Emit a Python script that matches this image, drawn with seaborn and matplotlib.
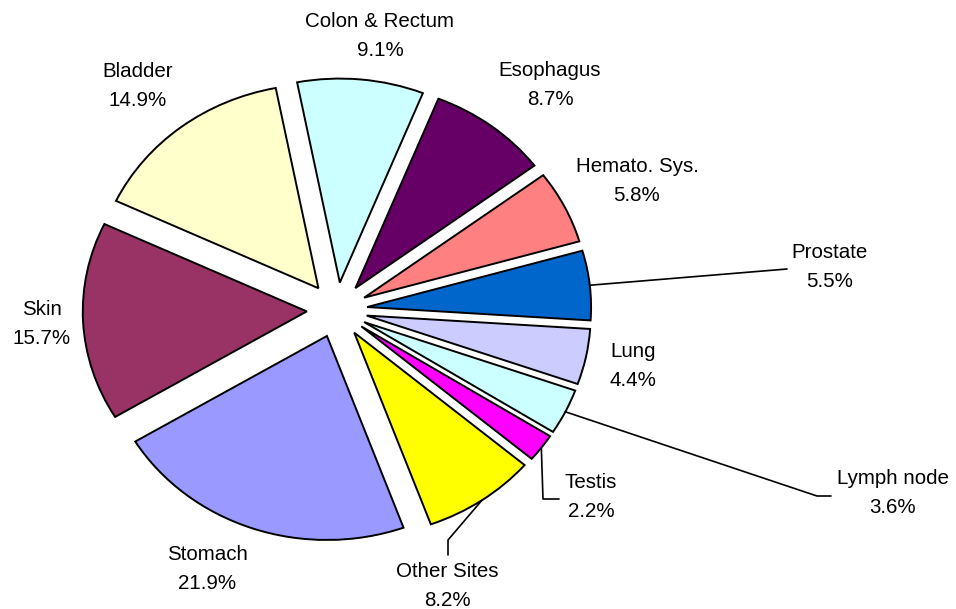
import numpy as np
import matplotlib
matplotlib.use("Agg")
import matplotlib.pyplot as plt
import seaborn as sns

sns.set_style("white")
plt.rcParams["font.family"] = ["Liberation Sans", "DejaVu Sans"]

# DATA (clockwise from the top)
sites = ["Colon & Rectum", "Esophagus", "Hemato. Sys.", "Prostate", "Lung",
         "Lymph node", "Testis", "Other Sites", "Stomach", "Skin", "Bladder"]
shares = [9.1, 8.7, 5.8, 5.5, 4.4, 3.6, 2.2, 8.2, 21.9, 15.7, 14.9]
colors = ["#CCFFFF", "#660066", "#FF8080", "#0066CC", "#CCCCFF", "#CCFFFF",
          "#FF00FF", "#FFFF00", "#9999FF", "#993366", "#FFFFCC"]

# LAYOUT (pixels of the 956x609 picture)
W, H = 956, 609
CX, CY, RX, RY = 337, 310, 224, 204   # pie centre and radii (pie is a bit stretched)

def to_data(x, y):
    return (x - CX) / RX, (CY - y) / RY

label_px = {"Colon & Rectum": (380, 36), "Esophagus": (550, 85), "Hemato. Sys.": (637, 181),
            "Prostate": (830, 267), "Lung": (633, 366), "Lymph node": (893, 493),
            "Testis": (591, 497), "Other Sites": (447, 586), "Stomach": (207, 569),
            "Skin": (42, 324), "Bladder": (138, 86)}
# leader line bends, the line starts at the middle of the slice's outer arc
leader_px = {"Prostate": [(775, 270), (787, 269)],
             "Lymph node": [(817, 496), (831, 496)],
             "Testis": [(543, 499), (559, 499)],
             "Other Sites": [(448, 540), (448, 555)]}

fig = plt.figure(figsize=(W / 100, H / 100), dpi=100)
ax = fig.add_axes([0, 0, 1, 1])
wedges, _ = ax.pie(shares, colors=colors, explode=[0.135] * len(shares),
                   startangle=101, counterclock=False,
                   wedgeprops=dict(edgecolor="black", linewidth=1.4))
ax.set_aspect("auto")
ax.set_xlim(-CX / RX, (W - CX) / RX)
ax.set_ylim(-(H - CY) / RY, CY / RY)
ax.axis("off")

for w, site, share in zip(wedges, sites, shares):
    x, y = to_data(*label_px[site])
    ax.text(x, y, f"{site}\n{share}%", ha="center", va="center",
            fontsize=14.8, linespacing=1.68, color="black")
    if site in leader_px:
        mid = np.deg2rad((w.theta1 + w.theta2) / 2)
        sx = w.center[0] + w.r * np.cos(mid)
        sy = w.center[1] + w.r * np.sin(mid)
        pts = [(sx, sy)] + [to_data(*p) for p in leader_px[site]]
        ax.plot([p[0] for p in pts], [p[1] for p in pts], color="black", lw=1.2)

fig.savefig("out.png", dpi=100, facecolor="white")
